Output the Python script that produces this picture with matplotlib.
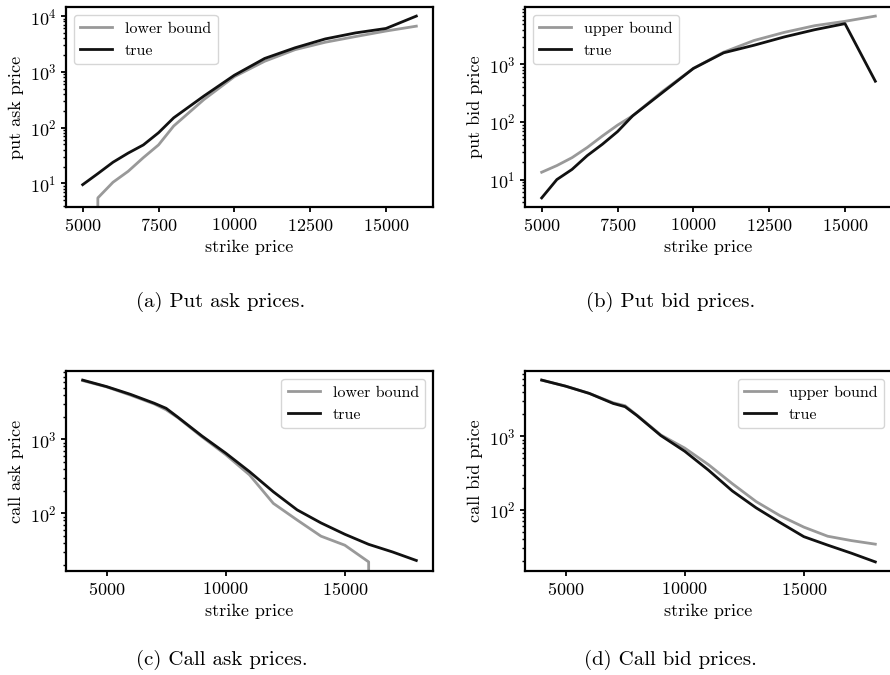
import matplotlib
matplotlib.use("Agg")
from matplotlib import pyplot as plt
import numpy as np

plt.rcParams["font.family"] = "serif"
plt.rcParams["font.serif"] = ["cmr10"]
plt.rcParams["mathtext.fontset"] = "cm"
plt.rcParams["axes.formatter.use_mathtext"] = True
plt.rcParams["axes.linewidth"] = 1.6
plt.rcParams["xtick.major.width"] = 1.3
plt.rcParams["ytick.major.width"] = 1.3
plt.rcParams["ytick.minor.width"] = 1.0
plt.rcParams["font.size"] = 12
plt.rcParams["xtick.labelsize"] = 13
plt.rcParams["ytick.labelsize"] = 13

gray = "#999999"
black = "#111111"

# (a) put ask
strike_put = [5000, 5500, 6000, 6500, 7000, 7500, 8000, 9000, 10000, 11000, 12000, 13000, 14000, 15000, 16000]
put_ask_lower = [0, 5.5, 10.5, 16.5, 29, 49, 107, 320, 820, 1550, 2500, 3400, 4300, 5400, 6600]
put_ask_true = [9.5, 15, 24, 35, 49, 81, 150, 370, 870, 1740, 2700, 3900, 5000, 6000, 10000]

# (b) put bid
put_bid_upper = [13.4, 17.5, 24, 36, 57, 88, 128, 345, 850, 1630, 2600, 3600, 4700, 5600, 6900]
put_bid_true = [4.8, 10, 15, 26, 41, 68, 128, 330, 850, 1590, 2150, 3000, 4000, 5100, 510]

# (c) call ask
strike_call = [4000, 5000, 6000, 7000, 7500, 8000, 9000, 10000, 11000, 12000, 13000, 14000, 15000, 16000, 17000, 18000]
call_ask_lower = [6200, 5100, 3950, 3000, 2500, 1950, 1080, 620, 330, 136, 81, 49, 37, 22, 0, 0]
call_ask_true = [6300, 5150, 4050, 3070, 2620, 1980, 1110, 650, 365, 195, 111, 74, 52, 38, 30, 23]

# (d) call bid
call_bid_upper = [5800, 4800, 3820, 2850, 2600, 1930, 1040, 690, 410, 226, 129, 83, 58, 43.6, 38, 34]
call_bid_true = [5800, 4800, 3820, 2790, 2520, 1910, 1020, 625, 345, 180, 106, 67, 43, 33, 25.6, 19.5]

put_ticks = [5000, 7500, 10000, 12500, 15000]
call_ticks = [5000, 10000, 15000]

fig = plt.figure(figsize=(8.9, 6.75), dpi=100)

W = 367 / 890
H = 200 / 675
pos = {
    "a": [66 / 890, 1 - 207 / 675, W, H],
    "b": [525 / 890, 1 - 207 / 675, W, H],
    "c": [66 / 890, 1 - 571 / 675, W, H],
    "d": [525 / 890, 1 - 571 / 675, W, H],
}

panels = [
    ("a", strike_put, put_ask_lower, put_ask_true, "lower bound", "put ask price", "upper left", put_ticks, "(a) Put ask prices.", 221, 302),
    ("b", strike_put, put_bid_upper, put_bid_true, "upper bound", "put bid price", "upper left", put_ticks, "(b) Put bid prices.", 671, 302),
    ("c", strike_call, call_ask_lower, call_ask_true, "lower bound", "call ask price", "upper right", call_ticks, "(c) Call ask prices.", 222, 660),
    ("d", strike_call, call_bid_upper, call_bid_true, "upper bound", "call bid price", "upper right", call_ticks, "(d) Call bid prices.", 670, 660),
]

for key, x, bound, true, blabel, ylabel, loc, xt, caption, cx, cy in panels:
    ax = fig.add_axes(pos[key])
    ax.plot(x, bound, color=gray, lw=2, label=blabel)
    ax.plot(x, true, color=black, lw=2, label="true")
    ax.set_yscale("log")
    ax.set_xticks(xt)
    ax.set_xlabel("strike price", fontsize=13)
    ax.set_ylabel(ylabel, fontsize=13)
    ax.legend(loc=loc, fontsize=11.5)
    fig.text(cx / 890, 1 - cy / 675, caption, ha="center", va="center", fontsize=15)

fig.savefig("out.png", dpi=100)
